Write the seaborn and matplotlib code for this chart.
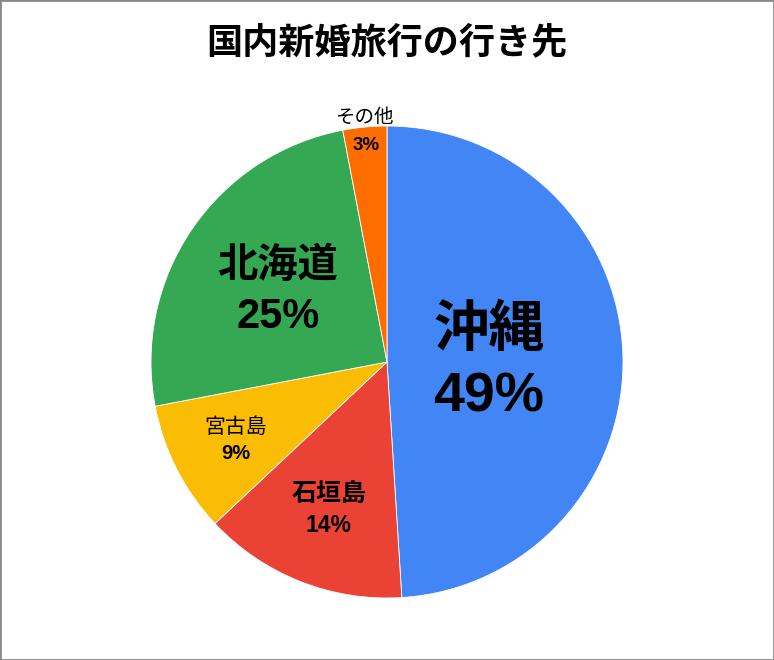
import numpy as np
import matplotlib
matplotlib.use("Agg")
import matplotlib.pyplot as plt
from matplotlib.patches import Rectangle
import seaborn as sns

# data
title = "国内新婚旅行の行き先"
categories = ["沖縄", "石垣島", "宮古島", "北海道", "その他"]
values = [49, 14, 9, 25, 3]
pct_labels = ["49%", "14%", "9%", "25%", "3%"]

sns.set_theme(style="white")
plt.rcParams['font.family'] = ['Noto Sans CJK JP', 'DejaVu Sans']
pct_family = ['Liberation Sans', 'DejaVu Sans']

colors = ["#4285F4", "#EA4335", "#FBBC04", "#34A853", "#FF6D01"]

W, H = 774, 660
fig = plt.figure(figsize=(W / 100, H / 100), dpi=100)
cx, cy, r = 387, 362, 236
ax = fig.add_axes([(cx - r) / W, (H - cy - r) / H, 2 * r / W, 2 * r / H])

wedges, _ = ax.pie(values, colors=colors, startangle=90, counterclock=False,
                   radius=1.0, wedgeprops=dict(edgecolor="white", linewidth=0.6))
ax.set_xlim(-1, 1)
ax.set_ylim(-1, 1)
ax.set_aspect("equal")
ax.axis("off")

styles = [
    dict(rad=0.43, nsize=40, nweight="bold", psize=40, ngap=0.12, pgap=0.165, sep=True),
    dict(rad=0.67, nsize=18, nweight="bold", psize=16.5, ngap=0.062, pgap=0.07, sep=True),
    dict(rad=0.72, nsize=15, nweight="normal", psize=14.5, ngap=0.05, pgap=0.06, sep=True),
    dict(rad=0.56, nsize=29, nweight="bold", psize=30, ngap=0.095, pgap=0.125, sep=True),
    dict(rad=0.93, nsize=14, nweight="normal", psize=13.5, ngap=0.0, pgap=0.0, sep=False),
]

for w, name, pct, st in zip(wedges, categories, pct_labels, styles):
    ang = np.deg2rad((w.theta1 + w.theta2) / 2)
    x, y = st["rad"] * np.cos(ang), st["rad"] * np.sin(ang)
    if st["sep"]:
        ax.text(x, y + st["ngap"], name, ha="center", va="center",
                fontsize=st["nsize"], fontweight=st["nweight"], color="black")
        ax.text(x, y - st["pgap"], pct, ha="center", va="center",
                fontsize=st["psize"], fontweight="bold", color="black",
                family=pct_family)
    else:
        ax.text(x, y - 0.01, pct, ha="center", va="center",
                fontsize=st["psize"], fontweight="bold", color="black",
                family=pct_family)
        r2 = 1.04
        ax.text(r2 * np.cos(ang) + 0.002, r2 * np.sin(ang), name, ha="center",
                va="center", fontsize=st["nsize"], fontweight="normal",
                color="black", clip_on=False)

fig.text(0.5, 1 - 43 / H, title, ha="center", va="center",
         fontsize=26, fontweight="bold", color="black")

fig.add_artist(Rectangle((0, 0), 1, 1, transform=fig.transFigure, fill=False,
                         edgecolor="#8a8a8a", linewidth=2))

fig.savefig("out.png", dpi=100)
